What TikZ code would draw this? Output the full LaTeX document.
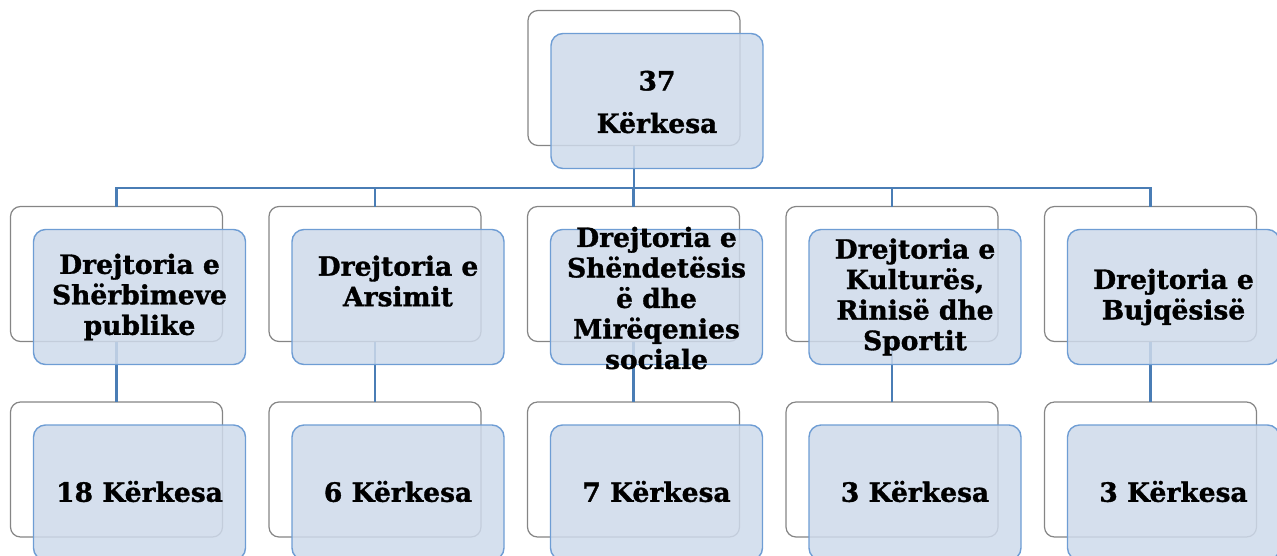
\documentclass[tikz,border=0pt]{standalone}
\usepackage{fontspec}
\setmainfont{DejaVu Serif}[BoldFeatures={FakeBold=1.2}]
\definecolor{backline}{HTML}{858585}
\definecolor{frontline}{HTML}{6E9DD4}
\definecolor{frontfill}{HTML}{CEDAEB}
\definecolor{connline}{HTML}{4A7DB5}
\begin{document}
\begin{tikzpicture}[x=1pt,y=-1pt,
  backbox/.style={draw=backline,line width=1.2pt,fill=white,rounded corners=10pt,
    minimum width=212pt,minimum height=135pt,inner sep=0pt,outer sep=0pt},
  frontbox/.style={draw=frontline,line width=1.4pt,fill=frontfill,fill opacity=0.85,
    rounded corners=12pt,minimum width=212pt,minimum height=135pt,
    inner sep=0pt,outer sep=0pt},
  boxtext/.style={inner sep=0pt,font=\fontsize{26.5}{30.5}\selectfont\bfseries,
    align=center,text=black},
  conn/.style={draw=connline,line width=2.4pt}]
\useasboundingbox (0,0) rectangle (1277,555);
% back boxes
\node[backbox] (tb) at (634,78) {};
\foreach \i/\x in {1/116.5,2/375,3/633.5,4/892,5/1150.5}{
  \node[backbox] (b\i) at (\x,274) {};
  \node[backbox] (c\i) at (\x,469.5) {};
}
% connectors
\foreach \i in {1,...,5}{
  \draw[conn] (tb.south) -- (tb.south |- 0,188) -| (b\i.north);
  \draw[conn] (b\i.south) -- (c\i.north);
}
% front boxes
\node[frontbox] (tf) at (657,101) {};
\foreach \i/\x in {1/139.5,2/398,3/656.5,4/915,5/1173.5}{
  \node[frontbox] (f\i) at (\x,297) {};
  \node[frontbox] (g\i) at (\x,492.5) {};
}
% texts
\node[boxtext] (ttf) at ([yshift=-1pt]tf.center) {37\\[12pt]Kërkesa};
\node[boxtext] (tf1) at (f1.center) {Drejtoria e\\Shërbimeve\\publike};
\node[boxtext] (tf2) at ([yshift=16pt]f2.center) {Drejtoria e\\Arsimit};
\node[boxtext] (tf3) at ([yshift=-1pt]f3.center) {Drejtoria e\\Shëndetësis\\ë dhe\\Mirëqenies\\sociale};
\node[boxtext] (tf4) at (f4.center) {Drejtoria e\\Kulturës,\\Rinisë dhe\\Sportit};
\node[boxtext] (tf5) at (f5.center) {Drejtoria e\\Bujqësisë};
\node[boxtext] (tg1) at ([yshift=1pt]g1.center) {18 Kërkesa};
\node[boxtext] (tg2) at ([yshift=1pt]g2.center) {6 Kërkesa};
\node[boxtext] (tg3) at ([yshift=1pt]g3.center) {7 Kërkesa};
\node[boxtext] (tg4) at ([yshift=1pt]g4.center) {3 Kërkesa};
\node[boxtext] (tg5) at ([yshift=1pt]g5.center) {3 Kërkesa};
\end{tikzpicture}
\end{document}
